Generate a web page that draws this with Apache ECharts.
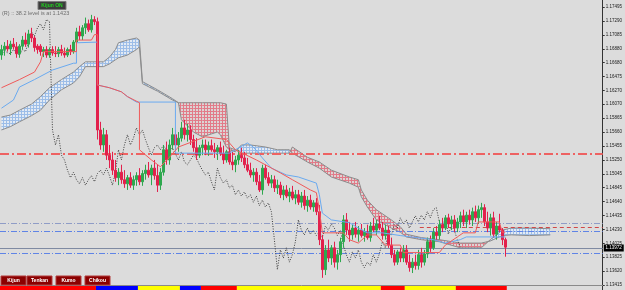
<!DOCTYPE html>
<html><head><meta charset="utf-8">
<script src="https://cdn.jsdelivr.net/npm/echarts@6.0.0/dist/echarts.min.js"></script>
<style>html,body{margin:0;padding:0;background:#dcdcdc;}#c{width:625px;height:290px;}</style>
</head><body><div id="c"></div>
<script>
const barSlots = 201;
const categories = Array.from({length: barSlots}, (_, i) => String(i));
const priceTicks = [1.17495,1.17290,1.17085,1.16880,1.16680,1.16475,1.16270,1.16070,1.15865,1.15660,1.15455,1.15250,1.15045,1.14845,1.14640,1.14435,1.14230,1.14025,1.13825,1.13620,1.13415];
const yMin = 1.13341, yMax = 1.17598;

const opens = [1.1679,1.1687,1.1692,1.1688,1.1695,1.1691,1.1681,1.1692,1.1701,1.1695,1.1710,1.1704,1.1692,1.1692,1.1684,1.1687,1.1679,1.1687,1.1682,1.1681,1.1687,1.1682,1.1679,1.1687,1.1684,1.1698,1.1713,1.1707,1.1719,1.1725,1.1716,1.1731,1.1728,1.1569,1.1547,1.1562,1.1532,1.1525,1.1510,1.1499,1.1507,1.1496,1.1490,1.1499,1.1488,1.1496,1.1502,1.1493,1.1505,1.1510,1.1503,1.1513,1.1502,1.1488,1.1507,1.1540,1.1525,1.1547,1.1562,1.1547,1.1557,1.1572,1.1562,1.1569,1.1555,1.1543,1.1532,1.1543,1.1547,1.1540,1.1546,1.1540,1.1537,1.1543,1.1534,1.1525,1.1537,1.1522,1.1518,1.1525,1.1532,1.1528,1.1518,1.1510,1.1503,1.1507,1.1493,1.1481,1.1513,1.1499,1.1491,1.1496,1.1484,1.1488,1.1474,1.1481,1.1472,1.1478,1.1469,1.1474,1.1463,1.1472,1.1458,1.1466,1.1456,1.1462,1.1449,1.1408,1.1364,1.1393,1.1381,1.1396,1.1375,1.1386,1.1405,1.1437,1.1422,1.1415,1.1425,1.1416,1.1422,1.1414,1.1419,1.1411,1.1428,1.1422,1.1431,1.1425,1.1414,1.1422,1.1400,1.1386,1.1375,1.1390,1.1381,1.1393,1.1375,1.1367,1.1375,1.1370,1.1386,1.1375,1.1387,1.1405,1.1396,1.1419,1.1414,1.1430,1.1425,1.1440,1.1431,1.1437,1.1425,1.1434,1.1443,1.1434,1.1444,1.1437,1.1449,1.1440,1.1452,1.1455,1.1434,1.1425,1.1440,1.1416,1.1428,1.1422,1.1408];
const highs = [1.1694,1.1698,1.1701,1.1700,1.1704,1.1698,1.1695,1.1707,1.1712,1.1716,1.1719,1.1707,1.1695,1.1695,1.1691,1.1692,1.1690,1.1692,1.1692,1.1691,1.1694,1.1690,1.1690,1.1694,1.1701,1.1719,1.1722,1.1723,1.1734,1.1731,1.1738,1.1736,1.1734,1.1581,1.1572,1.1569,1.1547,1.1537,1.1525,1.1513,1.1518,1.1510,1.1503,1.1507,1.1502,1.1507,1.1513,1.1510,1.1518,1.1522,1.1518,1.1525,1.1518,1.1513,1.1547,1.1552,1.1555,1.1572,1.1569,1.1566,1.1581,1.1584,1.1578,1.1576,1.1562,1.1557,1.1547,1.1555,1.1555,1.1552,1.1555,1.1550,1.1547,1.1552,1.1546,1.1540,1.1543,1.1537,1.1531,1.1540,1.1543,1.1537,1.1528,1.1521,1.1513,1.1513,1.1503,1.1518,1.1518,1.1507,1.1503,1.1502,1.1496,1.1493,1.1487,1.1488,1.1484,1.1487,1.1481,1.1481,1.1478,1.1481,1.1472,1.1474,1.1466,1.1469,1.1459,1.1415,1.1400,1.1408,1.1400,1.1405,1.1393,1.1411,1.1444,1.1447,1.1434,1.1430,1.1434,1.1428,1.1431,1.1425,1.1430,1.1434,1.1440,1.1437,1.1443,1.1434,1.1430,1.1428,1.1411,1.1393,1.1393,1.1396,1.1400,1.1400,1.1386,1.1381,1.1386,1.1393,1.1396,1.1393,1.1411,1.1414,1.1425,1.1428,1.1437,1.1440,1.1444,1.1446,1.1443,1.1444,1.1440,1.1449,1.1452,1.1449,1.1452,1.1455,1.1458,1.1458,1.1462,1.1460,1.1449,1.1446,1.1449,1.1434,1.1446,1.1425,1.1411];
const lows = [1.1672,1.1678,1.1684,1.1679,1.1687,1.1675,1.1675,1.1687,1.1691,1.1690,1.1698,1.1684,1.1681,1.1678,1.1676,1.1675,1.1675,1.1678,1.1676,1.1676,1.1678,1.1675,1.1676,1.1679,1.1681,1.1692,1.1701,1.1701,1.1710,1.1713,1.1712,1.1723,1.1555,1.1540,1.1537,1.1525,1.1513,1.1503,1.1493,1.1488,1.1490,1.1484,1.1481,1.1484,1.1481,1.1487,1.1488,1.1487,1.1496,1.1499,1.1488,1.1496,1.1478,1.1481,1.1502,1.1518,1.1518,1.1540,1.1540,1.1537,1.1552,1.1555,1.1552,1.1547,1.1537,1.1525,1.1528,1.1532,1.1532,1.1531,1.1537,1.1528,1.1525,1.1531,1.1519,1.1521,1.1518,1.1510,1.1507,1.1518,1.1522,1.1513,1.1507,1.1499,1.1493,1.1488,1.1478,1.1474,1.1496,1.1487,1.1484,1.1478,1.1475,1.1469,1.1466,1.1469,1.1463,1.1466,1.1460,1.1459,1.1455,1.1452,1.1449,1.1452,1.1449,1.1444,1.1400,1.1352,1.1356,1.1375,1.1371,1.1367,1.1364,1.1375,1.1396,1.1415,1.1405,1.1408,1.1411,1.1405,1.1411,1.1405,1.1408,1.1405,1.1419,1.1415,1.1422,1.1408,1.1408,1.1396,1.1381,1.1370,1.1371,1.1375,1.1375,1.1371,1.1361,1.1359,1.1364,1.1364,1.1367,1.1370,1.1381,1.1390,1.1393,1.1408,1.1408,1.1419,1.1422,1.1425,1.1422,1.1419,1.1419,1.1425,1.1428,1.1425,1.1430,1.1428,1.1434,1.1431,1.1440,1.1428,1.1419,1.1414,1.1411,1.1408,1.1419,1.1400,1.1383];
const closes = [1.1687,1.1692,1.1688,1.1695,1.1691,1.1681,1.1692,1.1701,1.1695,1.1710,1.1704,1.1690,1.1687,1.1684,1.1687,1.1679,1.1687,1.1682,1.1681,1.1687,1.1682,1.1679,1.1687,1.1684,1.1698,1.1713,1.1707,1.1719,1.1725,1.1716,1.1731,1.1728,1.1569,1.1547,1.1562,1.1532,1.1525,1.1510,1.1499,1.1507,1.1496,1.1490,1.1499,1.1488,1.1496,1.1502,1.1493,1.1505,1.1510,1.1503,1.1513,1.1502,1.1488,1.1507,1.1540,1.1525,1.1547,1.1562,1.1547,1.1557,1.1572,1.1562,1.1569,1.1555,1.1543,1.1532,1.1543,1.1547,1.1540,1.1546,1.1540,1.1537,1.1543,1.1534,1.1525,1.1537,1.1522,1.1518,1.1525,1.1532,1.1528,1.1518,1.1510,1.1503,1.1507,1.1493,1.1481,1.1513,1.1499,1.1491,1.1496,1.1484,1.1488,1.1474,1.1481,1.1472,1.1478,1.1469,1.1474,1.1463,1.1472,1.1458,1.1466,1.1456,1.1462,1.1449,1.1408,1.1364,1.1393,1.1381,1.1396,1.1375,1.1386,1.1405,1.1437,1.1422,1.1415,1.1425,1.1416,1.1422,1.1414,1.1419,1.1411,1.1428,1.1422,1.1431,1.1425,1.1414,1.1422,1.1400,1.1386,1.1375,1.1390,1.1381,1.1393,1.1375,1.1367,1.1375,1.1370,1.1386,1.1375,1.1387,1.1405,1.1396,1.1419,1.1414,1.1430,1.1425,1.1440,1.1431,1.1437,1.1425,1.1434,1.1443,1.1434,1.1444,1.1437,1.1449,1.1440,1.1452,1.1455,1.1434,1.1425,1.1440,1.1416,1.1428,1.1422,1.1408,1.1397];

const tenkanIdx = [0,6,11,13,14,25,25,30,31,32,32,36,40,42,46,46,50,53,56,59,68,75,78,85,93,97,103,105,106,107,114,116,119,122,125,128,133,134,146,148,152,154,158,159,166,167,168];
const tenkanVal = [1.1631,1.1643,1.1654,1.1669,1.1684,1.1684,1.1701,1.1701,1.1709,1.1709,1.1635,1.1631,1.1625,1.1618,1.1609,1.1540,1.1525,1.1515,1.1529,1.1544,1.1559,1.1555,1.1540,1.1525,1.1506,1.1496,1.1481,1.1477,1.1452,1.1418,1.1418,1.1408,1.1403,1.1415,1.1415,1.1400,1.1400,1.1389,1.1389,1.1400,1.1412,1.1418,1.1418,1.1434,1.1434,1.1419,1.1419];
const kijunIdx = [0,4,6,11,17,24,25,25,32,32,36,40,42,45,58,58,76,78,82,84,87,90,95,99,105,106,107,110,116,119,122,127,133,144,148,153,155,168];
const kijunVal = [1.1601,1.1613,1.1632,1.1643,1.1657,1.1667,1.1667,1.1697,1.1698,1.1635,1.1631,1.1625,1.1618,1.1610,1.1610,1.1535,1.1535,1.1540,1.1550,1.1544,1.1528,1.1513,1.1503,1.1500,1.1491,1.1474,1.1447,1.1437,1.1433,1.1425,1.1418,1.1418,1.1414,1.1408,1.1403,1.1408,1.1412,1.1412];
const kumoIdx = [0,3,6,10,13,16,20,24,26,28,34,36,38,39,42,45,46,47,52,57,59,60,64,67,72,73,75,76,78,80,83,88,92,96,97,102,106,110,116,119,120,122,125,130,133,135,140,146,153,160,163,167,170,176,183];
const spanA = [1.1588,1.1591,1.1598,1.1607,1.1618,1.1631,1.1643,1.1654,1.1662,1.1669,1.1669,1.1676,1.1687,1.1697,1.1701,1.1704,1.1701,1.1640,1.1628,1.1615,1.1609,1.1584,1.1566,1.1559,1.1566,1.1562,1.1544,1.1540,1.1537,1.1547,1.1547,1.1544,1.1540,1.1540,1.1535,1.1522,1.1513,1.1500,1.1491,1.1485,1.1471,1.1456,1.1437,1.1425,1.1419,1.1412,1.1408,1.1405,1.1396,1.1396,1.1408,1.1422,1.1425,1.1425,1.1424];
const spanB = [1.1569,1.1574,1.1581,1.1590,1.1598,1.1613,1.1628,1.1638,1.1647,1.1662,1.1662,1.1666,1.1672,1.1675,1.1679,1.1687,1.1691,1.1637,1.1626,1.1613,1.1609,1.1609,1.1609,1.1609,1.1609,1.1609,1.1607,1.1543,1.1540,1.1535,1.1535,1.1535,1.1535,1.1535,1.1544,1.1529,1.1522,1.1510,1.1500,1.1496,1.1481,1.1466,1.1452,1.1437,1.1427,1.1416,1.1411,1.1408,1.1403,1.1403,1.1406,1.1414,1.1415,1.1414,1.1415];
const chikou = [1.1679,1.1687,1.1682,1.1681,1.1687,1.1682,1.1679,1.1687,1.1684,1.1698,
1.1713,1.1707,1.1719,1.1725,1.1716,1.1731,1.1728,1.1569,1.1547,1.1562,
1.1532,1.1525,1.1510,1.1499,1.1507,1.1496,1.1490,1.1499,1.1488,1.1496,
1.1502,1.1493,1.1505,1.1510,1.1503,1.1513,1.1502,1.1488,1.1507,1.1540,
1.1525,1.1547,1.1562,1.1547,1.1557,1.1572,1.1562,1.1569,1.1555,1.1543,
1.1532,1.1543,1.1547,1.1540,1.1546,1.1540,1.1537,1.1543,1.1534,1.1525,
1.1537,1.1522,1.1518,1.1525,1.1532,1.1528,1.1518,1.1510,1.1503,1.1507,
1.1493,1.1481,1.1513,1.1499,1.1491,1.1496,1.1484,1.1488,1.1474,1.1481,
1.1472,1.1478,1.1469,1.1474,1.1463,1.1472,1.1458,1.1466,1.1456,1.1462,
1.1449,1.1408,1.1364,1.1393,1.1381,1.1396,1.1375,1.1386,1.1405,1.1437,
1.1422,1.1415,1.1425,1.1416,1.1422,1.1414,1.1419,1.1411,1.1428,1.1422,
1.1431,1.1425,1.1414,1.1422,1.1400,1.1386,1.1375,1.1390,1.1381,1.1393,
1.1375,1.1367,1.1375,1.1370,1.1386,1.1375,1.1387,1.1405,1.1396,1.1419,
1.1414,1.1430,1.1425,1.1440,1.1431,1.1437,1.1425,1.1434,1.1443,1.1434,
1.1444,1.1437,1.1449,1.1440,1.1452,1.1455,1.1434,1.1425,1.1440,1.1416,
1.1428,1.1422,1.1408,1.1397];

// horizontal levels: value, first bar index where the line starts
const levelValues = [1.1534, 1.1433, 1.1426, 1.1420, 1.1396, 1.1388];
const levelStart  = [0, 0, 140, 0, 0, 0];
const levelColors = ['#ee6262', '#8f9cc6', '#d04848', '#5f84e6', '#7f8aa2', '#5f84e6'];
const levelWidths = [2, 1, 1, 1, 1, 1];
const levelDashes = [[9,3,2,3], [6,2,1,2], [4,3], [6,2,1,2], null, [6,2,1,2]];
const bidLabel = '1.13972';
const bidLevel = 1.1396;
const stripStart = [0,32,46,60,67,79,127,135,152];
const stripEnd   = [31,45,59,66,78,126,134,151,168];
const stripColor = ['#ff0000','#0000ff','#ffff00','#0000ff','#ff0000','#ffff00','#ff0000','#ffff00','#ff0000'];
const buttonNames = ['Kijun','Tenkan','Kumo','Chikou'];
const buttonX = [1,27,56,85];

function hatch(bg, line) {
  const c = document.createElement('canvas'); c.width = 3; c.height = 3;
  const g = c.getContext('2d');
  g.fillStyle = bg; g.fillRect(0,0,3,3);
  g.fillStyle = line; g.fillRect(0,0,3,1); g.fillRect(0,0,1,3);
  return {image: c, repeat: 'repeat'};
}
const blueHatch = hatch('#e2eaf4', '#9cbde8');
const redHatch = hatch('#dcd4d4', '#e27a88');

const chart = echarts.init(document.getElementById('c'), null, {renderer: 'canvas'});
const option = {
  animation: false,
  backgroundColor: '#dcdcdc',
  textStyle: {fontFamily: 'Liberation Sans'},
  grid: {left: 0, right: 22, top: 0, bottom: 0, containLabel: false},
  xAxis: {type: 'category', data: categories, boundaryGap: true, show: false},
  yAxis: {
    type: 'value', position: 'right', min: yMin, max: yMax,
    splitLine: {show: false},
    axisLine: {show: true, lineStyle: {color: '#333', width: 1}},
    axisTick: {show: true, length: 2, customValues: priceTicks, lineStyle: {color: '#333'}},
    axisLabel: {customValues: priceTicks, fontSize: 4.5, color: '#1a1a1a', margin: 3,
      formatter: v => v.toFixed(5)}
  },
  series: [
    {
      type: 'custom', z: 1, silent: true,
      data: kumoIdx.map((x, i) => [x, spanA[i], spanB[i]]),
      encode: {x: 0, y: [1, 2]},
      renderItem(params, api) {
        const i = params.dataIndex;
        if (i >= kumoIdx.length - 1) return null;
        const a0 = api.coord([kumoIdx[i], spanA[i]]), a1 = api.coord([kumoIdx[i+1], spanA[i+1]]);
        const b0 = api.coord([kumoIdx[i], spanB[i]]), b1 = api.coord([kumoIdx[i+1], spanB[i+1]]);
        const bull = spanA[i] + spanA[i+1] >= spanB[i] + spanB[i+1];
        return {type: 'polygon', shape: {points: [a0, a1, b1, b0]}, style: {fill: bull ? blueHatch : redHatch}};
      }
    },
    {type: 'line', z: 2, silent: true, showSymbol: false, data: kumoIdx.map((x, i) => [x, spanA[i]]),
      lineStyle: {color: '#8c8c8c', width: 1}},
    {type: 'line', z: 2, silent: true, showSymbol: false, data: kumoIdx.map((x, i) => [x, spanB[i]]),
      lineStyle: {color: '#8c8c8c', width: 1}},
    {
      type: 'custom', z: 3, silent: true,
      data: levelValues.map((v, i) => [levelStart[i], v]),
      encode: {x: 0, y: 1},
      renderItem(params, api) {
        const i = params.dataIndex;
        const cs = params.coordSys;
        const p = api.coord([levelStart[i], levelValues[i]]);
        const w = api.size([1, 0])[0];
        const x0 = levelStart[i] === 0 ? cs.x : p[0] - w / 2;
        const y = Math.round(p[1]) + (levelWidths[i] % 2 ? 0.5 : 0);
        return {type: 'line', shape: {x1: x0, y1: y, x2: cs.x + cs.width, y2: y},
          style: {stroke: levelColors[i], lineWidth: levelWidths[i], lineDash: levelDashes[i]}};
      }
    },
    {type: 'line', z: 3, silent: true, showSymbol: false, data: chikou.map((v, i) => [i, v]),
      lineStyle: {color: '#3c3c3c', width: 1, type: [1, 1.5]}},
    {
      type: 'candlestick', z: 4, silent: true, barWidth: 2,
      data: opens.map((o, i) => [o, closes[i], lows[i], highs[i]]),
      itemStyle: {color: '#2ea84e', color0: '#e2204c', borderColor: '#2ea84e', borderColor0: '#e2204c', borderWidth: 1}
    },
    {type: 'line', z: 5, silent: true, showSymbol: false, data: kijunIdx.map((x, i) => [x, kijunVal[i]]),
      lineStyle: {color: '#6aaaf0', width: 1}},
    {type: 'line', z: 6, silent: true, showSymbol: false, data: tenkanIdx.map((x, i) => [x, tenkanVal[i]]),
      lineStyle: {color: '#f05a5a', width: 1}},
    {
      type: 'custom', z: 7, silent: true,
      data: stripStart.map((s, i) => [s, stripEnd[i], yMin]),
      encode: {x: [0, 1], y: 2},
      renderItem(params, api) {
        const i = params.dataIndex;
        const w = api.size([1, 0])[0];
        const x0 = api.coord([stripStart[i], yMin])[0] - w / 2;
        const x1 = api.coord([stripEnd[i], yMin])[0] + w / 2;
        return {type: 'rect', shape: {x: x0, y: 286, width: x1 - x0, height: 4}, style: {fill: stripColor[i]}};
      }
    },
    {
      type: 'custom', z: 20, silent: true, clip: false,
      data: [[closes.length - 1, bidLevel]],
      encode: {x: 0, y: 1},
      renderItem(params, api) {
        const cs = params.coordSys;
        const y = Math.round(api.coord([0, bidLevel])[1]);
        const x0 = cs.x + cs.width + 1;
        return {type: 'group', children: [
          {type: 'rect', shape: {x: x0, y: y - 3.5, width: 20, height: 7}, style: {fill: '#000'}},
          {type: 'text', x: x0 + 10, y: y, style: {text: bidLabel, fill: '#fff', font: '4.5px "Liberation Sans"', align: 'center', verticalAlign: 'middle'}}
        ]};
      }
    }
  ],
  graphic: [
    {type: 'line', shape: {x1: 0, y1: 285.5, x2: 603, y2: 285.5}, style: {stroke: '#8a8a8a', lineWidth: 1}, z: 10},
    {type: 'rect', shape: {x: 38, y: 1.5, width: 28, height: 8}, style: {fill: '#3c3c3c', stroke: '#7a7a7a', lineWidth: 1}, z: 10},
    {type: 'text', x: 52, y: 6, z: 11, style: {text: 'Kijun ON', fill: '#1fd01f', font: 'bold 5px "Liberation Sans"', align: 'center', verticalAlign: 'middle'}},
    {type: 'text', x: 2, y: 13.5, z: 11, style: {text: '(R) :: 38.2 level is at 1.1423', fill: '#6e6e6e', font: '5.5px "Liberation Sans"', verticalAlign: 'middle'}}
  ].concat(buttonNames.flatMap((n, i) => [
    {type: 'rect', shape: {x: buttonX[i], y: 276, width: 25, height: 9}, style: {fill: '#8b0000', stroke: '#b23a3a', lineWidth: 1}, z: 10},
    {type: 'text', x: buttonX[i] + 12.5, y: 280.5, z: 11, style: {text: n, fill: '#ffffff', font: 'bold 5px "Liberation Sans"', align: 'center', verticalAlign: 'middle'}}
  ]))
};
chart.setOption(option);
</script></body></html>
